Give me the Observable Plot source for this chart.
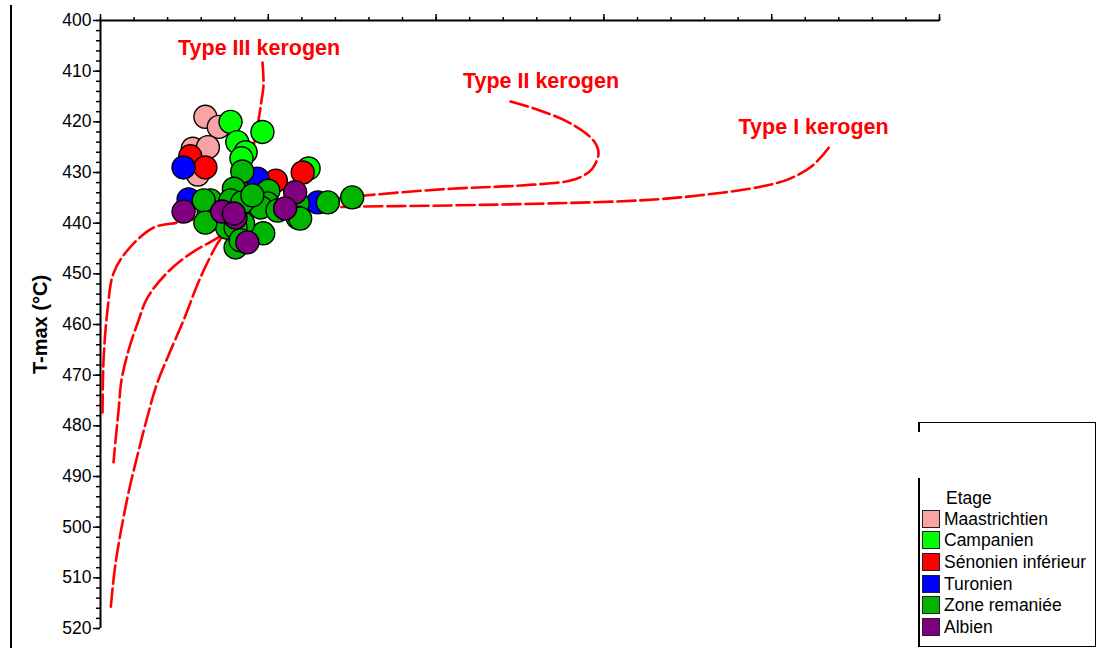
<!DOCTYPE html>
<html>
<head>
<meta charset="utf-8">
<script src="https://cdn.jsdelivr.net/npm/d3@7"></script>
<script src="https://cdn.jsdelivr.net/npm/@observablehq/plot@0.6"></script>
<style>
  html, body { margin: 0; padding: 0; background: #fff; }
  #wrap { position: relative; width: 1101px; height: 650px; font-family: "Liberation Sans", Arial, sans-serif; }
  #wrap svg { position: absolute; left: 0; top: 0; }
  .vline { position: absolute; background: #000; }
  #legend { position: absolute; left: 918px; top: 422px; width: 177px; height: 223px;
            border-top: 1.5px solid #000; border-right: 1.5px solid #000; border-bottom: 1.5px solid #000; }
  .lg-row { position: absolute; left: 4px; height: 21px; line-height: 21px; font-size: 17.5px; white-space: nowrap; color: #000; }
  .lg-sw { display: inline-block; width: 16px; height: 16px; border: 1px solid #222; vertical-align: -3px; margin-right: 4px; }
</style>
</head>
<body>
<div id="wrap"></div>
<script>
// ---- Data ----
const stages = ["Maastrichtien", "Campanien", "Sénonien inférieur", "Turonien", "Zone remaniée", "Albien"];
const stageColors = ["#f8a4a4", "#00ff00", "#ff0000", "#0000ff", "#00b400", "#800080"];

// [HI, Tmax] pairs per stage
const maastrichtien = [[125,419],[141,421],[110,425.3],[128,425],[116,430.4]];
const campanien = [[155,420],[193,422],[163,424],[173,426],[168,427.2],[248,429.2]];
const senonienInf = [[107,426.8],[125,429],[209,431.6],[241,430]];
const turonien = [[99,429],[187,431.2],[105,435.3],[259,435.9]];
const zoneRemaniee = [[169,429.8],[300,434.9],[271,435.9],[159,433.2],[200,433.6],[131,435.5],[129,437.7],
  [155,435.5],[179,435.5],[199,436.1],[191,436.9],[128,439.5],[151,438.1],[235,436.1],[235,438.9],[238,439.1],
  [194,442],[161,444.8],[170,440.1],[151,440.9],[211,437.5],[169,435.9],[181,434.5],[123,435.5],[161,440.9],
  [125,439.9],[167,443.4]];
const albien = [[99,437.7],[145,437.7],[161,438.9],[159,438.1],[232,433.9],[220,437.1],[175,443.8]];
const stageData = [maastrichtien, campanien, senonienInf, turonien, zoneRemaniee, albien];

// kerogen type curves [HI, Tmax]
const typeI = [[868,425.1],[849,428.6],[822,431.2],[787,432.8],[715,434.5],[644,435.5],[536,436.1],[417,436.5],
  [274,436.9],[179,437.9],[119,439.1],[92,439.9],[63,440.9],[32,445.4],[15.5,449.9],[8.3,457.2],[3.6,467.1],[2.4,477.4]];
const typeII = [[488.7,416.0],[524.4,417.8],[560.2,420.3],[587.6,423.7],[593.6,426.2],[586.4,429.2],[575.7,430.6],
  [560.2,431.6],[497,432.6],[417.2,433.2],[318.2,434.5],[262.2,435.5],[202.6,437.5],[166.9,439.9],[140.6,442.8],
  [107.3,446.0],[79.9,449.7],[56,454.7],[45.3,459.2],[33.4,465.1],[25,471.0],[21.5,477.0],[17.9,482.9],[15.5,487.2]];
const typeIII = [[193.1,408.3],[194.3,412.8],[191.9,415.8],[188.3,419.7],[178.8,427.6],[166.9,435.5],[149,441.8],
  [139.5,444.0],[119.2,450.7],[98.9,459.2],[81.0,466.1],[66.7,472.0],[54.8,478.9],[44.1,485.8],[32.2,494.1],[17.9,507.2],[11.9,516.4]];
const curveLabels = ["Type III kerogen", "Type II kerogen", "Type I kerogen"];
const curveLabelPos = [[189,405.4], [525,412.0], [850,421.1]];

const yMajorTicks = d3.range(400, 521, 10);
const yMinorTicks = d3.range(400, 521, 2);
const xMajorTicks = d3.range(0, 1001, 200);
const xMinorTicks = d3.range(0, 1001, 40);
const yLabel = "T-max (°C)";
const legendTitle = "Etage";

// ---- Build table ----
const points = stageData.flatMap((arr, i) => arr.map(([hi, t]) => ({hi, t, stage: stages[i]})));
const labelRows = curveLabels.map((text, i) => ({text, hi: curveLabelPos[i][0], t: curveLabelPos[i][1]}));
const curveStyle = {x: d => d[0], y: d => d[1], stroke: "#ff0000", strokeWidth: 2.6, strokeDasharray: "18,5", curve: "catmull-rom"};

const chart = Plot.plot({
  width: 1101,
  height: 650,
  marginLeft: 100,
  marginRight: 162,
  marginTop: 20,
  marginBottom: 22,
  style: {fontFamily: "Liberation Sans, Arial, sans-serif", background: "transparent", overflow: "visible"},
  x: {domain: [0, 1000]},
  y: {domain: [400, 520], reverse: true},
  color: {domain: stages, range: stageColors},
  marks: [
    Plot.axisY({ticks: yMinorTicks, tickSize: 4, text: null, strokeWidth: 1.5, label: null}),
    Plot.axisY({ticks: yMajorTicks, tickSize: 7, tickPadding: 2, fontSize: 17.5, strokeWidth: 1.5, label: null, tickFormat: d => String(d), fill: "#000"}),
    Plot.axisX({anchor: "top", ticks: xMinorTicks, tickSize: 4, text: null, strokeWidth: 1.5, label: null}),
    Plot.axisX({anchor: "top", ticks: xMajorTicks, tickSize: 7, text: null, strokeWidth: 1.5, label: null}),
    Plot.ruleX([0], {y1: 400, y2: 520, stroke: "#000", strokeWidth: 2}),
    Plot.ruleY([400], {x1: 0, x2: 1000, stroke: "#000", strokeWidth: 2}),
    Plot.line(typeI, curveStyle),
    Plot.line(typeII, curveStyle),
    Plot.line(typeIII, curveStyle),
    Plot.dot(points, {x: "hi", y: "t", fill: "stage", r: 11.5, stroke: "#000", strokeWidth: 1.4}),
    Plot.text(labelRows, {x: "hi", y: "t", text: "text", fill: "#ff0000", fontWeight: "bold", fontSize: 21.5}),
    Plot.text([yLabel], {frameAnchor: "left", textAnchor: "middle", rotate: -90, dx: -60, fontWeight: "bold", fontSize: 20, fill: "#000"})
  ]
});

const wrap = document.getElementById("wrap");
wrap.appendChild(chart);

// far-left border line
const vl = document.createElement("div");
vl.className = "vline";
Object.assign(vl.style, {left: "10px", top: "5px", width: "2px", height: "643px"});
wrap.appendChild(vl);

// legend box
const lg = document.createElement("div");
lg.id = "legend";
wrap.appendChild(lg);
const lb1 = document.createElement("div");
lb1.className = "vline";
Object.assign(lb1.style, {left: "918px", top: "422px", width: "1.5px", height: "10px"});
wrap.appendChild(lb1);
const lb2 = document.createElement("div");
lb2.className = "vline";
Object.assign(lb2.style, {left: "918px", top: "478px", width: "1.5px", height: "169px"});
wrap.appendChild(lb2);

const title = document.createElement("div");
title.className = "lg-row";
title.style.left = "28px";
title.style.top = "65px";
title.textContent = legendTitle;
lg.appendChild(title);
stages.forEach((s, i) => {
  const row = document.createElement("div");
  row.className = "lg-row";
  row.style.top = (85.5 + i * 21.7) + "px";
  const sw = document.createElement("span");
  sw.className = "lg-sw";
  sw.style.background = stageColors[i];
  row.appendChild(sw);
  row.appendChild(document.createTextNode(s));
  lg.appendChild(row);
});
</script>
</body>
</html>
